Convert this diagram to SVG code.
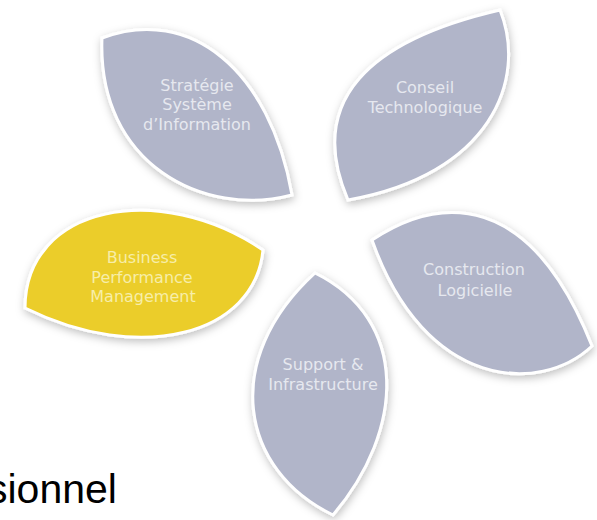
<svg xmlns="http://www.w3.org/2000/svg" width="597" height="520" viewBox="0 0 597 520">
  <defs>
    <filter id="sh" x="-20%" y="-20%" width="140%" height="140%">
      <feDropShadow dx="1" dy="3" stdDeviation="4" flood-color="#000" flood-opacity="0.25"/>
    </filter>
  </defs>
  <style>
    .leaf { fill: #b1b5c9; stroke: #ffffff; stroke-width: 3; stroke-linejoin: miter; filter: url(#sh); }
    .yel { fill: #ebcd2b; }
    .lbl { font-family: "DejaVu Sans", Verdana, sans-serif; font-size: 16px; fill: #e6e8ef; text-anchor: middle; }
    .ylbl { fill: #f7eea8; }
    .big { font-family: "Liberation Sans", Arial, sans-serif; font-size: 41px; fill: #000000; }
  </style>
  <rect width="597" height="520" fill="#ffffff"/>
  <g id="connectors"></g>
  <g id="strategie">
    <path class="leaf" d="M102,38 C190,5 270,70 292,195 C205,218 97,165 102,38 Z"/>
    <text class="lbl" x="197" y="91">Stratégie</text>
    <text class="lbl" x="197" y="110">Système</text>
    <text class="lbl" x="197" y="130">d’Information</text>
  </g>
  <g id="conseil">
    <path class="leaf" d="M348,200 C305,100 370,40 500,10 C528,80 490,175 348,200 Z"/>
    <text class="lbl" x="425" y="93">Conseil</text>
    <text class="lbl" x="425" y="113">Technologique</text>
  </g>
  <g id="bpm">
    <path class="leaf yel" d="M25,308 C25,205 160,180 263,250 C255,335 140,365 25,308 Z"/>
    <text class="lbl ylbl" x="142" y="263">Business</text>
    <text class="lbl ylbl" x="142" y="283">Performance</text>
    <text class="lbl ylbl" x="143" y="302">Management</text>
  </g>
  <g id="construction">
    <path class="leaf" d="M372,240 C440,195 530,190 592,346 C540,395 425,390 372,240 Z"/>
    <text class="lbl" x="474" y="275">Construction</text>
    <text class="lbl" x="475" y="296">Logicielle</text>
  </g>
  <g id="support">
    <path class="leaf" d="M315,273 C410,320 405,430 333,515 C240,470 220,360 315,273 Z"/>
    <text class="lbl" x="323" y="370">Support &amp;</text>
    <text class="lbl" x="323" y="390">Infrastructure</text>
  </g>
  <text class="big" x="-13" y="503">sionnel</text>
</svg>
